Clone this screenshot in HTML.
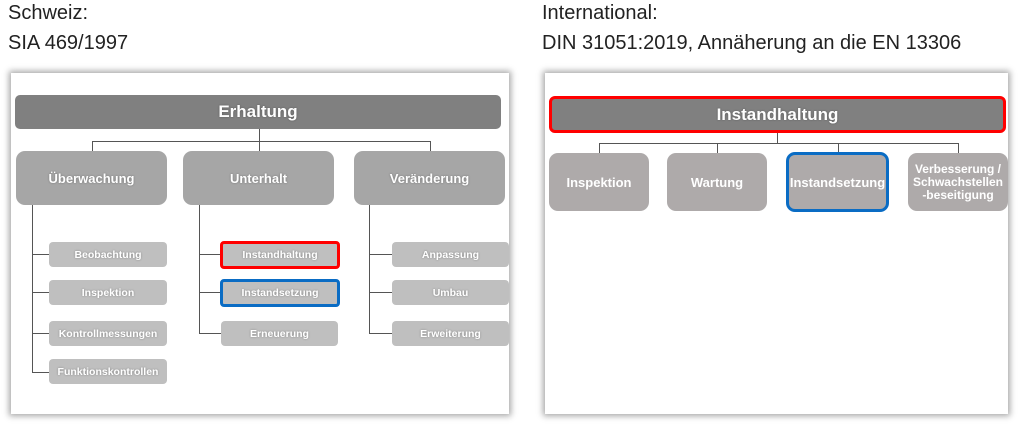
<!DOCTYPE html>
<html><head><meta charset="utf-8"><style>
body{margin:0;width:1024px;height:432px;background:#fff;position:relative;overflow:hidden;font-family:"Liberation Sans",Arial,sans-serif}
.t{position:absolute;font-size:20px;color:#222;line-height:30px}
.p{position:absolute;background:#fff;box-shadow:0 0 6px 2px rgba(0,0,0,.35)}
.b{position:absolute;display:flex;align-items:center;justify-content:center;text-align:center;color:#fff;font-weight:bold;box-sizing:border-box}
.l{position:absolute;background:#555}
.s{background:#bfbfbf;border-radius:4px;font-size:10.5px;height:25px;text-shadow:0 0 2px rgba(0,0,0,.3)}
.m{background:#a6a6a6;border-radius:9px;font-size:13px;height:54px;width:151px;top:151px;text-shadow:0 0 2px rgba(0,0,0,.3)}
.r{background:#aeaaaa;border-radius:9px;font-size:13px;height:58px;top:153px;line-height:13px}
</style></head><body>
<div class="t" style="left:8px;top:-2px">Schweiz:<br>SIA 469/1997</div>
<div class="t" style="left:542px;top:-2px">International:<br>DIN 31051:2019, Annäherung an die EN 13306</div>

<div class="p" style="left:11px;top:73px;width:498px;height:341px"></div>
<div class="b" style="left:15px;top:95px;width:486px;height:34px;background:#808080;border-radius:5px;font-size:17px;text-shadow:0 0 2px rgba(0,0,0,.3)">Erhaltung</div>
<div class="l" style="left:259px;top:129px;width:1px;height:22px"></div>
<div class="l" style="left:92px;top:141px;width:339px;height:1px"></div>
<div class="l" style="left:92px;top:141px;width:1px;height:10px"></div>
<div class="l" style="left:430px;top:141px;width:1px;height:10px"></div>
<div class="b m" style="left:16px">Überwachung</div>
<div class="b m" style="left:183px">Unterhalt</div>
<div class="b m" style="left:354px">Veränderung</div>
<div class="l" style="left:32px;top:205px;width:1px;height:168px"></div>
<div class="l" style="left:199px;top:205px;width:1px;height:129px"></div>
<div class="l" style="left:369px;top:205px;width:1px;height:129px"></div>
<div class="l" style="left:32px;top:254px;width:17px;height:1px"></div>
<div class="l" style="left:32px;top:292px;width:17px;height:1px"></div>
<div class="l" style="left:32px;top:333px;width:17px;height:1px"></div>
<div class="l" style="left:32px;top:372px;width:17px;height:1px"></div>
<div class="l" style="left:199px;top:254px;width:22px;height:1px"></div>
<div class="l" style="left:199px;top:292px;width:22px;height:1px"></div>
<div class="l" style="left:199px;top:333px;width:22px;height:1px"></div>
<div class="l" style="left:369px;top:254px;width:23px;height:1px"></div>
<div class="l" style="left:369px;top:292px;width:23px;height:1px"></div>
<div class="l" style="left:369px;top:333px;width:23px;height:1px"></div>
<div class="b s" style="left:49px;top:242px;width:118px">Beobachtung</div>
<div class="b s" style="left:49px;top:280px;width:118px">Inspektion</div>
<div class="b s" style="left:49px;top:321px;width:118px">Kontrollmessungen</div>
<div class="b s" style="left:49px;top:359px;width:118px">Funktionskontrollen</div>
<div class="b s" style="left:220px;top:241px;width:120px;height:28px;border:3px solid #f00">Instandhaltung</div>
<div class="b s" style="left:220px;top:279px;width:120px;height:28px;border:3px solid #0a6cc4">Instandsetzung</div>
<div class="b s" style="left:221px;top:321px;width:117px">Erneuerung</div>
<div class="b s" style="left:392px;top:242px;width:117px">Anpassung</div>
<div class="b s" style="left:392px;top:280px;width:117px">Umbau</div>
<div class="b s" style="left:392px;top:321px;width:117px">Erweiterung</div>

<div class="p" style="left:545px;top:73px;width:463px;height:341px"></div>
<div class="b" style="left:549px;top:96px;width:457px;height:37px;background:#808080;border:3px solid #f00;border-radius:6px;font-size:17px;text-shadow:0 0 2px rgba(0,0,0,.3)">Instandhaltung</div>
<div class="l" style="left:777px;top:133px;width:1px;height:10px"></div>
<div class="l" style="left:599px;top:143px;width:360px;height:1px"></div>
<div class="l" style="left:599px;top:143px;width:1px;height:10px"></div>
<div class="l" style="left:717px;top:143px;width:1px;height:10px"></div>
<div class="l" style="left:838px;top:143px;width:1px;height:10px"></div>
<div class="l" style="left:958px;top:143px;width:1px;height:10px"></div>
<div class="b r" style="left:549px;width:100px">Inspektion</div>
<div class="b r" style="left:667px;width:100px">Wartung</div>
<div class="b r" style="left:786px;width:103px;border:3px solid #0a6cc4;height:60px;top:152px">Instandsetzung</div>
<div class="b r" style="left:908px;width:100px;font-size:12px">Verbesserung /<br>Schwachstellen<br>-beseitigung</div>
</body></html>
